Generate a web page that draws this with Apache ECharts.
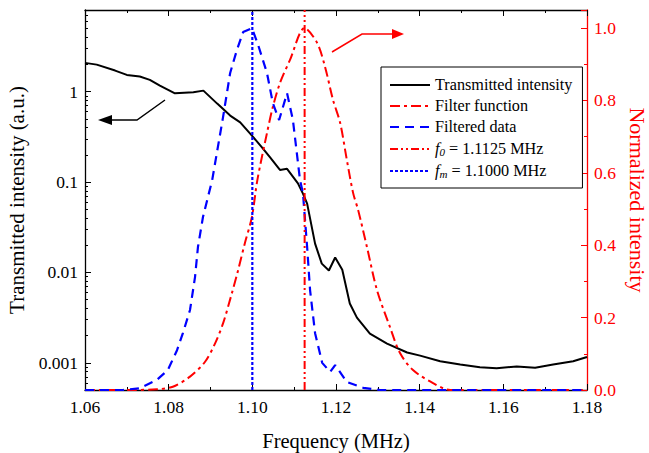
<!DOCTYPE html>
<html>
<head>
<meta charset="utf-8">
<script src="https://cdn.jsdelivr.net/npm/echarts@6/dist/echarts.min.js"></script>
<style>html,body{margin:0;padding:0;background:#fff;}#c{width:649px;height:453px;}</style>
</head>
<body>
<div id="c"></div>
<script>
// ---- data ----
const xTickLabels = ['1.06','1.08','1.10','1.12','1.14','1.16','1.18'];
const leftTickValues = [0.001, 0.01, 0.1, 1];
const rightTickLabels = ['0.0','0.2','0.4','0.6','0.8','1.0'];

const transFreq = [1.0600,1.0628,1.0672,1.0700,1.0731,1.0755,1.0779,1.0815,1.0859,1.0883,1.0916,1.0947,1.0971,1.0999,1.1023,1.1042,1.1066,1.1083,1.1109,1.1121,1.1131,1.1150,1.1166,1.1183,1.1198,1.1215,1.1233,1.1250,1.1281,1.1322,1.1370,1.1401,1.1449,1.1497,1.1544,1.1584,1.1632,1.1676,1.1719,1.1767,1.1800];
const transVals = [2.08,1.99,1.71,1.53,1.47,1.35,1.165,0.958,0.982,1.026,0.737,0.543,0.457,0.326,0.242,0.188,0.136,0.140,0.0967,0.0744,0.0577,0.0208,0.0125,0.0105,0.0146,0.0107,0.00452,0.00316,0.0021,0.00163,0.0013,0.0012,0.00104,0.000955,0.00089,0.000869,0.000911,0.000883,0.000955,0.00104,0.00116];

const filtFreq = [1.0600,1.0708,1.0772,1.0810,1.0851,1.0887,1.0911,1.0930,1.0951,1.0966,1.0982,1.0999,1.1012,1.1035,1.1049,1.1066,1.1090,1.1125,1.1155,1.1174,1.1193,1.1210,1.1226,1.1241,1.1253,1.1274,1.1298,1.1329,1.1353,1.1384,1.1432,1.1473,1.1800];
const filtVals = [0,0,0.002,0.009,0.037,0.078,0.129,0.184,0.267,0.331,0.405,0.478,0.58,0.71,0.782,0.848,0.912,1.0,0.959,0.892,0.801,0.738,0.635,0.544,0.497,0.395,0.276,0.174,0.102,0.055,0.019,0,0];

const dataFreq = [1.0600,1.0691,1.0731,1.0772,1.0798,1.0820,1.0834,1.0851,1.0863,1.0870,1.0882,1.0904,1.0930,1.0947,1.0963,1.0978,1.0999,1.1014,1.1035,1.1049,1.1064,1.1083,1.1097,1.1114,1.1121,1.1131,1.1138,1.1150,1.1167,1.1186,1.1198,1.1226,1.1265,1.1305,1.1800];
const dataVals = [0,0,0.005,0.028,0.055,0.11,0.157,0.221,0.312,0.395,0.478,0.58,0.754,0.876,0.939,0.989,1.0,0.953,0.876,0.793,0.746,0.82,0.746,0.58,0.544,0.395,0.276,0.157,0.075,0.05,0.069,0.022,0.006,0,0];

const f0 = 1.1125;
const fm = 1.1000;
const vLineRange = [0, 1.05];

// ---- build ----
const zip = (a, b) => a.map((v, i) => [v, b[i]]);
const serif = 'Liberation Serif';
const minorLog = [];
[0.0001,0.001,0.01,0.1,1].forEach(d => { for (let k = 2; k <= 9; k++) { const v = +(d*k).toPrecision(3); if (v > 0.0005 && v < 8) minorLog.push(v); } });

const chart = echarts.init(document.getElementById('c'), null, {renderer: 'svg'});
const option = {
  animation: false,
  backgroundColor: '#fff',
  textStyle: {fontFamily: serif},
  grid: {left: 85, right: 62, top: 10, bottom: 63, containLabel: false, outerBoundsMode: 'none'},
  xAxis: [{
    type: 'value', min: 1.06, max: 1.18, interval: 0.02, position: 'bottom',
    name: 'Frequency (MHz)', nameLocation: 'middle', nameGap: 40,
    nameTextStyle: {fontFamily: serif, fontSize: 20.5, color: '#000'},
    axisLine: {lineStyle: {color: '#000', width: 1.3}},
    axisTick: {inside: true, length: 6, lineStyle: {color: '#000'}},
    minorTick: {show: true, splitNumber: 2, length: 3, lineStyle: {color: '#000'}},
    splitLine: {show: false},
    axisLabel: {fontFamily: serif, fontSize: 17.5, color: '#000', margin: 8,
      formatter: v => { const s = v.toFixed(2); return xTickLabels.indexOf(s) >= 0 ? s : ''; }}
  }, {
    type: 'value', min: 1.06, max: 1.18, interval: 0.02, position: 'top',
    axisLine: {lineStyle: {color: '#000', width: 1.3}},
    axisTick: {inside: true, length: 6, lineStyle: {color: '#000'}},
    minorTick: {show: true, splitNumber: 2, length: 3, lineStyle: {color: '#000'}},
    splitLine: {show: false}, axisLabel: {show: false}
  }],
  yAxis: [{
    type: 'log', logBase: 10, min: 0.0005, max: 8, position: 'left',
    name: 'Transmitted intensity (a.u.)', nameLocation: 'middle', nameGap: 58,
    nameTextStyle: {fontFamily: serif, fontSize: 21, color: '#000'},
    axisLine: {show: true, lineStyle: {color: '#000', width: 1.3}},
    axisTick: {show: true, inside: true, length: 6, customValues: leftTickValues, lineStyle: {color: '#000'}},
    splitLine: {show: false},
    axisLabel: {fontFamily: serif, fontSize: 17.5, color: '#000', margin: 7, customValues: leftTickValues,
      formatter: v => String(+v.toPrecision(3))}
  }, {
    type: 'value', min: 0, max: 1.05, interval: 0.2, position: 'right',
    name: 'Normalized intensity', nameLocation: 'middle', nameGap: 33, nameRotate: -90,
    nameTextStyle: {fontFamily: serif, fontSize: 22, color: '#ff0000'},
    axisLine: {show: true, lineStyle: {color: '#ff0000', width: 1.3}},
    axisTick: {show: true, inside: true, length: 6, lineStyle: {color: '#ff0000'}},
    minorTick: {show: true, splitNumber: 2, length: 3, lineStyle: {color: '#ff0000'}},
    splitLine: {show: false},
    axisLabel: {fontFamily: serif, fontSize: 17.5, color: '#ff0000', margin: 7, showMaxLabel: false,
      formatter: v => { const s = v.toFixed(1); return rightTickLabels.indexOf(s) >= 0 ? s : ''; }}
  }, {
    type: 'log', logBase: 10, min: 0.0005, max: 8, position: 'left', offset: 0,
    axisLine: {show: false},
    axisTick: {show: true, inside: true, length: 3, customValues: minorLog, lineStyle: {color: '#000'}},
    axisLabel: {show: false}, splitLine: {show: false}
  }],
  legend: {
    orient: 'vertical', left: 381, top: 67,
    backgroundColor: '#fff', borderColor: '#000', borderWidth: 1,
    padding: [10, 10, 9, 8], itemGap: 5, itemWidth: 40, itemHeight: 14,
    itemStyle: {opacity: 0},
    textStyle: {fontFamily: serif, fontSize: 16.2, color: '#000', lineHeight: 16,
      rich: {i: {fontFamily: serif, fontSize: 16.2, fontStyle: 'italic', lineHeight: 16},
             s: {fontFamily: serif, fontSize: 11, fontStyle: 'italic', verticalAlign: 'bottom', lineHeight: 16, padding: [6,0,0,0]},
             t: {fontFamily: serif, fontSize: 16.2, lineHeight: 16}}},
    formatter: name => {
      if (name === 'f0') return '{i|f}{s|0}{t| = 1.1125 MHz}';
      if (name === 'fm') return '{i|f}{s|m}{t| = 1.1000 MHz}';
      return name;
    },
    data: ['Transmitted intensity', 'Filter function', 'Filtered data', 'f0', 'fm']
  },
  series: [{
    name: 'Transmitted intensity', type: 'line', xAxisIndex: 0, yAxisIndex: 0,
    data: zip(transFreq, transVals), showSymbol: false, symbol: 'none',
    lineStyle: {color: '#000', width: 2}, itemStyle: {color: '#000'}
  }, {
    name: 'Filter function', type: 'line', xAxisIndex: 0, yAxisIndex: 1,
    data: zip(filtFreq, filtVals), smooth: 0.3, showSymbol: false, symbol: 'none',
    lineStyle: {color: '#ff0000', width: 2, type: [10, 4, 3, 4]}, itemStyle: {color: '#ff0000'}
  }, {
    name: 'Filtered data', type: 'line', xAxisIndex: 0, yAxisIndex: 1,
    data: zip(dataFreq, dataVals), showSymbol: false, symbol: 'none',
    lineStyle: {color: '#0000ff', width: 2.2, type: [9, 6]}, itemStyle: {color: '#0000ff'}
  }, {
    name: 'f0', type: 'line', xAxisIndex: 0, yAxisIndex: 1,
    data: vLineRange.map(v => [f0, v]), showSymbol: false, symbol: 'none',
    lineStyle: {color: '#ff0000', width: 2, type: [8, 3, 2, 3, 2, 3]}, itemStyle: {color: '#ff0000'}
  }, {
    name: 'fm', type: 'line', xAxisIndex: 0, yAxisIndex: 1,
    data: vLineRange.map(v => [fm, v]), showSymbol: false, symbol: 'none',
    lineStyle: {color: '#0000ff', width: 2.2, type: [3, 2]}, itemStyle: {color: '#0000ff'}
  }],
  graphic: [
    {type: 'polyline', shape: {points: [[165, 100], [137, 120], [110, 120]]}, style: {stroke: '#000', lineWidth: 1.5, fill: null}},
    {type: 'polygon', shape: {points: [[98, 120], [112, 115], [112, 125]]}, style: {fill: '#000'}},
    {type: 'polyline', shape: {points: [[332, 52], [362, 34], [393, 34]]}, style: {stroke: '#ff0000', lineWidth: 1.5, fill: null}},
    {type: 'polygon', shape: {points: [[404, 34], [392, 29], [392, 39]]}, style: {fill: '#ff0000'}}
  ]
};
chart.setOption(option);
</script>
</body>
</html>
